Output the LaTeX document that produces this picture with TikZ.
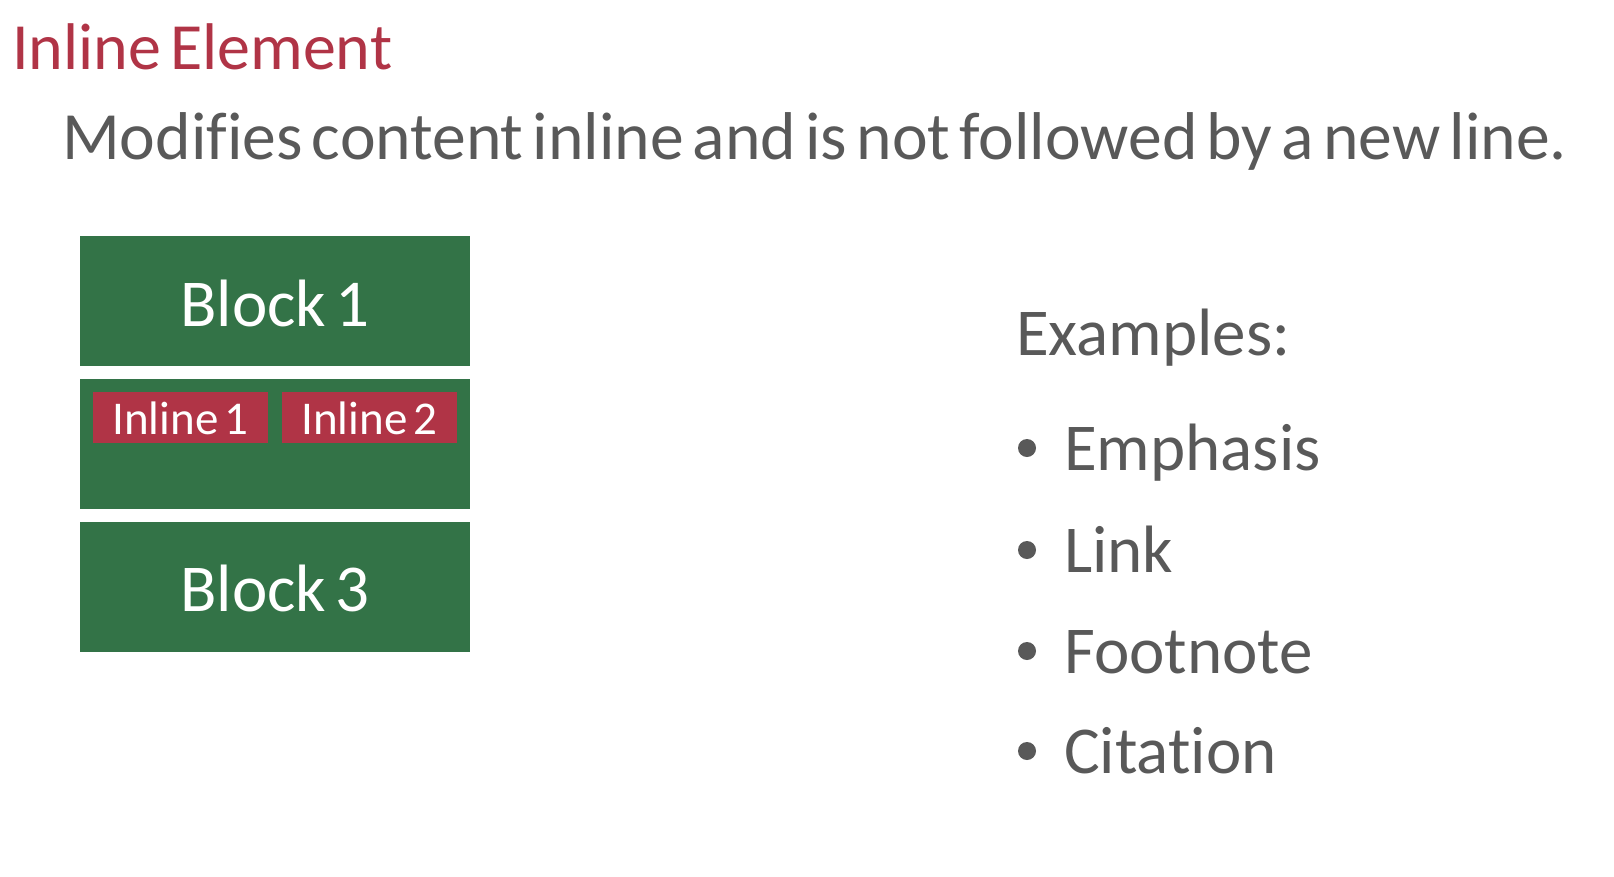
\documentclass[tikz,border=0pt]{standalone}
\usepackage{fontspec}
\setmainfont[WordSpace=0.6, Ligatures={NoCommon}]{Carlito}
\definecolor{blockgreen}{HTML}{337347}
\definecolor{inlinered}{HTML}{B03446}
\definecolor{textgray}{HTML}{595959}
\tikzset{
  blockbox/.style={fill=blockgreen, draw=none},
  inlinebox/.style={fill=inlinered, draw=none},
  boxlabel/.style={text=white, inner sep=0pt, anchor=base},
  bodytext/.style={text=textgray, inner sep=0pt, anchor=base west, font=\fontsize{67}{80}\selectfont},
}
\begin{document}
\begin{tikzpicture}[x=1pt, y=-1pt]
\useasboundingbox (0,0) rectangle (1614,876);

% heading and description
\node[inner sep=0pt, anchor=base west, text=inlinered, font=\fontsize{66}{80}\selectfont] (title) at (12,69) {Inline Element};
\node[bodytext, font=\fontsize{67.6}{80}\selectfont] (desc) at (62,159) {Modifies content inline and is not followed by a new line.};

% block stack
\path[blockbox] (80,236) rectangle (470,366) node[midway] (b1) {};
\path[blockbox] (80,379) rectangle (470,509) node[midway] (b2) {};
\path[blockbox] (80,522) rectangle (470,652) node[midway] (b3) {};
\node[boxlabel, font=\fontsize{67}{80}\selectfont] (b1t) at (275,326) {Block 1};
\node[boxlabel, font=\fontsize{67}{80}\selectfont] (b3t) at (275,611) {Block 3};

% inline elements inside the middle block
\path[inlinebox] (93,392) rectangle (268,443) node[midway] (i1) {};
\path[inlinebox] (282,392) rectangle (457,443) node[midway] (i2) {};
\node[boxlabel, font=\fontsize{47}{56}\selectfont] (i1t) at (180.5,434) {Inline 1};
\node[boxlabel, font=\fontsize{47}{56}\selectfont] (i2t) at (369.5,434) {Inline 2};

% examples list
\node[bodytext] (ex) at (1016,355) {Examples:};
\foreach \name/\word/\yb in {e1/Emphasis/470, e2/Link/572, e3/Footnote/673, e4/Citation/773}{
  \fill[textgray] (1027,\yb-22) circle (9) coordinate (\name b);
  \node[bodytext] (\name) at (1064,\yb) {\word};
}
\end{tikzpicture}
\end{document}
